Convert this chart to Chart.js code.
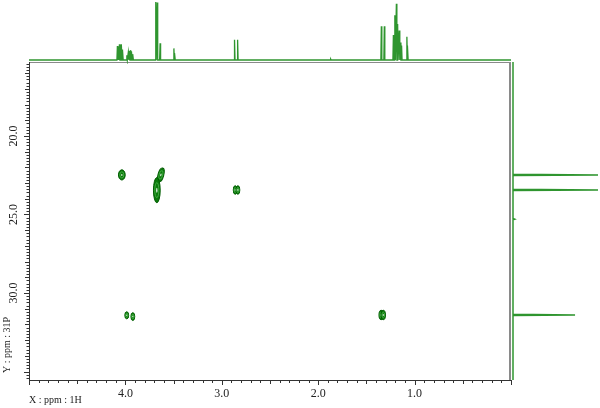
<!DOCTYPE html>
<html>
<head>
<meta charset="utf-8">
<script src="https://cdn.jsdelivr.net/npm/chart.js@4.4.1/dist/chart.umd.min.js"></script>
<style>
html, body { margin: 0; padding: 0; background: #fff; }
#wrap { position: relative; width: 600px; height: 408px; }
canvas { position: absolute; }
</style>
</head>
<body>
<div id="wrap">
  <canvas id="main" width="600" height="408" style="left:0;top:0"></canvas>
  <canvas id="top" width="600" height="66" style="left:0;top:0"></canvas>
  <canvas id="side" width="100" height="408" style="left:500px;top:0"></canvas>
</div>
<script>
// 1H projection: shift (ppm) and relative height
var hShift  = [4.083, 4.072, 4.062, 4.050, 4.040, 4.028,
               3.985, 3.970, 3.958, 3.946, 3.935, 3.922,
               3.685, 3.670, 3.640, 3.497, 3.488,
               2.868, 2.836, 1.870,
               1.345, 1.314,
               1.220, 1.205, 1.189, 1.176, 1.160, 1.147, 1.135,
               1.080, 1.072];
var hHeight = [0.24, 0.22, 0.27, 0.26, 0.27, 0.18,
               0.08, 0.13, 0.16, 0.17, 0.15, 0.10,
               1.00, 0.99, 0.29, 0.20, 0.12,
               0.35, 0.35, 0.015,
               0.58, 0.58,
               0.43, 0.77, 0.97, 0.62, 0.51, 0.30, 0.25,
               0.40, 0.25];

// 31P projection
var pShift  = [22.48, 23.44, 25.30, 31.40];
var pHeight = [1.00, 1.00, 0.02, 0.73];

// cross peaks (1H ppm, 31P ppm) and their widths in ppm
var crossH      = [4.037, 3.632, 3.674, 2.861, 2.833, 1.347, 1.325, 3.986, 3.923];
var crossP      = [22.48, 22.48, 23.45, 23.44, 23.44, 31.40, 31.40, 31.42, 31.50];
var crossWidthH = [0.070, 0.060, 0.070, 0.040, 0.040, 0.045, 0.045, 0.040, 0.040];
var crossWidthP = [0.65, 0.90, 1.60, 0.55, 0.55, 0.60, 0.60, 0.45, 0.50];
var crossTilt   = [0, 15, 0, 0, 0, 0, 0, 0, 0];

var xTicks = [4, 3, 2, 1];
var yTicks = [20, 25, 30];
var xRange = [0, 5];
var yRange = [15.29, 35.54];

var green = '#2f952f';
var serif = '"Liberation Serif", "DejaVu Serif", serif';

function topPoints() {
    var pts = [{x: xRange[1], y: 0}];
    for (var i = 0; i < hShift.length; i++) {
        pts.push({x: hShift[i] + 0.005, y: 0});
        pts.push({x: hShift[i], y: hHeight[i]});
        pts.push({x: hShift[i] - 0.005, y: 0});
    }
    pts.push({x: xRange[0], y: 0});
    return pts;
}

function sidePoints() {
    var pts = [{x: 0, y: yRange[0]}];
    for (var i = 0; i < pShift.length; i++) {
        pts.push({x: 0, y: pShift[i] - 0.04});
        pts.push({x: pHeight[i], y: pShift[i]});
        pts.push({x: 0, y: pShift[i] + 0.04});
    }
    pts.push({x: 0, y: yRange[1]});
    return pts;
}

var spotPlugin = {
    id: 'spots',
    afterDatasetsDraw: function (chart) {
        var ctx = chart.ctx;
        var xs = chart.scales.x, ys = chart.scales.y;
        var pxX = Math.abs(xs.getPixelForValue(1) - xs.getPixelForValue(0));
        var pxY = Math.abs(ys.getPixelForValue(21) - ys.getPixelForValue(20));
        var meta = chart.getDatasetMeta(0);
        meta.data.forEach(function (el, i) {
            var rx = crossWidthH[i] / 2 * pxX;
            var ry = crossWidthP[i] / 2 * pxY;
            ctx.save();
            ctx.translate(el.x, el.y);
            ctx.rotate(crossTilt[i] * Math.PI / 180);
            ctx.beginPath();
            ctx.ellipse(0, 0, rx, ry, 0, 0, Math.PI * 2);
            ctx.fillStyle = '#0b7a0b';
            ctx.fill();
            ctx.lineWidth = 1;
            ctx.strokeStyle = '#005c00';
            ctx.stroke();
            ctx.beginPath();
            ctx.ellipse(0, 0, rx * 0.6, ry * 0.6, 0, 0, Math.PI * 2);
            ctx.strokeStyle = '#3faa3f';
            ctx.stroke();
            ctx.beginPath();
            ctx.ellipse(0, 0, Math.max(rx * 0.2, 0.6), Math.max(ry * 0.2, 0.6), 0, 0, Math.PI * 2);
            ctx.fillStyle = '#e8f5e8';
            ctx.fill();
            ctx.restore();
        });
    }
};

var framePlugin = {
    id: 'frame',
    afterDraw: function (chart) {
        var ctx = chart.ctx;
        var a = chart.chartArea;
        var xs = chart.scales.x, ys = chart.scales.y;
        ctx.save();
        // box
        ctx.strokeStyle = '#8a8a8a';
        ctx.lineWidth = 1;
        ctx.beginPath();
        ctx.moveTo(a.left, a.top + 0.5);
        ctx.lineTo(a.right, a.top + 0.5);
        ctx.stroke();
        ctx.lineWidth = 2;
        ctx.beginPath();
        ctx.moveTo(a.right - 1, a.top);
        ctx.lineTo(a.right - 1, a.bottom);
        ctx.stroke();
        ctx.strokeStyle = '#333';
        ctx.lineWidth = 1;
        ctx.beginPath();
        ctx.moveTo(a.left + 0.5, a.top);
        ctx.lineTo(a.left + 0.5, a.bottom + 0.5);
        ctx.lineTo(a.right, a.bottom + 0.5);
        ctx.stroke();
        // x ticks
        ctx.beginPath();
        for (var k = 0; k <= 50; k++) {
            var px = Math.round(xs.getPixelForValue(k / 10)) + 0.5;
            var len = k % 10 === 0 ? 5 : (k % 5 === 0 ? 4 : 3);
            ctx.moveTo(px, a.bottom);
            ctx.lineTo(px, a.bottom + len);
        }
        // y ticks
        for (var m = 77; m <= 177; m++) {
            var v = m / 5;
            var py = Math.round(ys.getPixelForValue(v)) + 0.5;
            var l = m % 25 === 0 ? 5 : (m % 5 === 0 ? 4 : 2.5);
            ctx.moveTo(a.left, py);
            ctx.lineTo(a.left - l, py);
        }
        ctx.stroke();
        // y labels
        ctx.fillStyle = '#222';
        ctx.font = '12px ' + serif;
        ctx.textAlign = 'center';
        ctx.textBaseline = 'middle';
        yTicks.forEach(function (t) {
            ctx.save();
            ctx.translate(14, ys.getPixelForValue(t));
            ctx.rotate(-Math.PI / 2);
            ctx.fillText(t.toFixed(1), 0, 0);
            ctx.restore();
        });
        // axis titles
        ctx.font = '10px ' + serif;
        ctx.textAlign = 'left';
        ctx.textBaseline = 'middle';
        ctx.fillText('X : ppm : 1H', a.left, 400);
        ctx.save();
        ctx.translate(7, 373);
        ctx.rotate(-Math.PI / 2);
        ctx.fillText('Y : ppm : 31P', 0, 0);
        ctx.restore();
        ctx.restore();
    }
};

new Chart(document.getElementById('main').getContext('2d'), {
    type: 'scatter',
    data: {
        datasets: [{
            data: crossH.map(function (h, i) { return {x: h, y: crossP[i]}; }),
            pointRadius: 0,
            pointHoverRadius: 0
        }]
    },
    options: {
        responsive: false,
        animation: false,
        events: [],
        layout: { padding: { top: 62, right: 89, left: 0, bottom: 0 } },
        plugins: { legend: { display: false }, tooltip: { enabled: false } },
        scales: {
            x: {
                type: 'linear', reverse: true, min: xRange[0], max: xRange[1],
                grid: { display: false, drawTicks: false },
                border: { display: false },
                afterBuildTicks: function (s) { s.ticks = xTicks.map(function (v) { return {value: v}; }); },
                afterFit: function (s) { s.height = 28; },
                ticks: {
                    autoSkip: false, maxRotation: 0, padding: 7, color: '#222',
                    font: { family: serif, size: 12 },
                    callback: function (v) { return Number(v).toFixed(1); }
                }
            },
            y: {
                type: 'linear', reverse: true, min: yRange[0], max: yRange[1],
                grid: { display: false, drawTicks: false },
                border: { display: false },
                ticks: { display: false },
                afterFit: function (s) { s.width = 29; }
            }
        }
    },
    plugins: [spotPlugin, framePlugin]
});

new Chart(document.getElementById('top').getContext('2d'), {
    type: 'scatter',
    data: {
        datasets: [{
            data: topPoints(), showLine: true, pointRadius: 0,
            borderColor: green, borderWidth: 1.3, clip: 4
        }]
    },
    options: {
        responsive: false,
        animation: false,
        events: [],
        layout: { padding: { top: 2, right: 89, left: 29, bottom: 6 } },
        plugins: { legend: { display: false }, tooltip: { enabled: false } },
        scales: {
            x: { type: 'linear', reverse: true, min: xRange[0], max: xRange[1], display: false },
            y: { type: 'linear', min: 0, max: 1, display: false }
        }
    }
});

new Chart(document.getElementById('side').getContext('2d'), {
    type: 'scatter',
    data: {
        datasets: [{
            data: sidePoints(), showLine: true, pointRadius: 0,
            borderColor: green, borderWidth: 1.5, clip: 4
        }]
    },
    options: {
        responsive: false,
        animation: false,
        events: [],
        layout: { padding: { top: 62, right: 2, left: 13, bottom: 28 } },
        plugins: { legend: { display: false }, tooltip: { enabled: false } },
        scales: {
            x: { type: 'linear', min: 0, max: 1, display: false },
            y: { type: 'linear', reverse: true, min: yRange[0], max: yRange[1], display: false }
        }
    }
});
</script>
</body>
</html>
